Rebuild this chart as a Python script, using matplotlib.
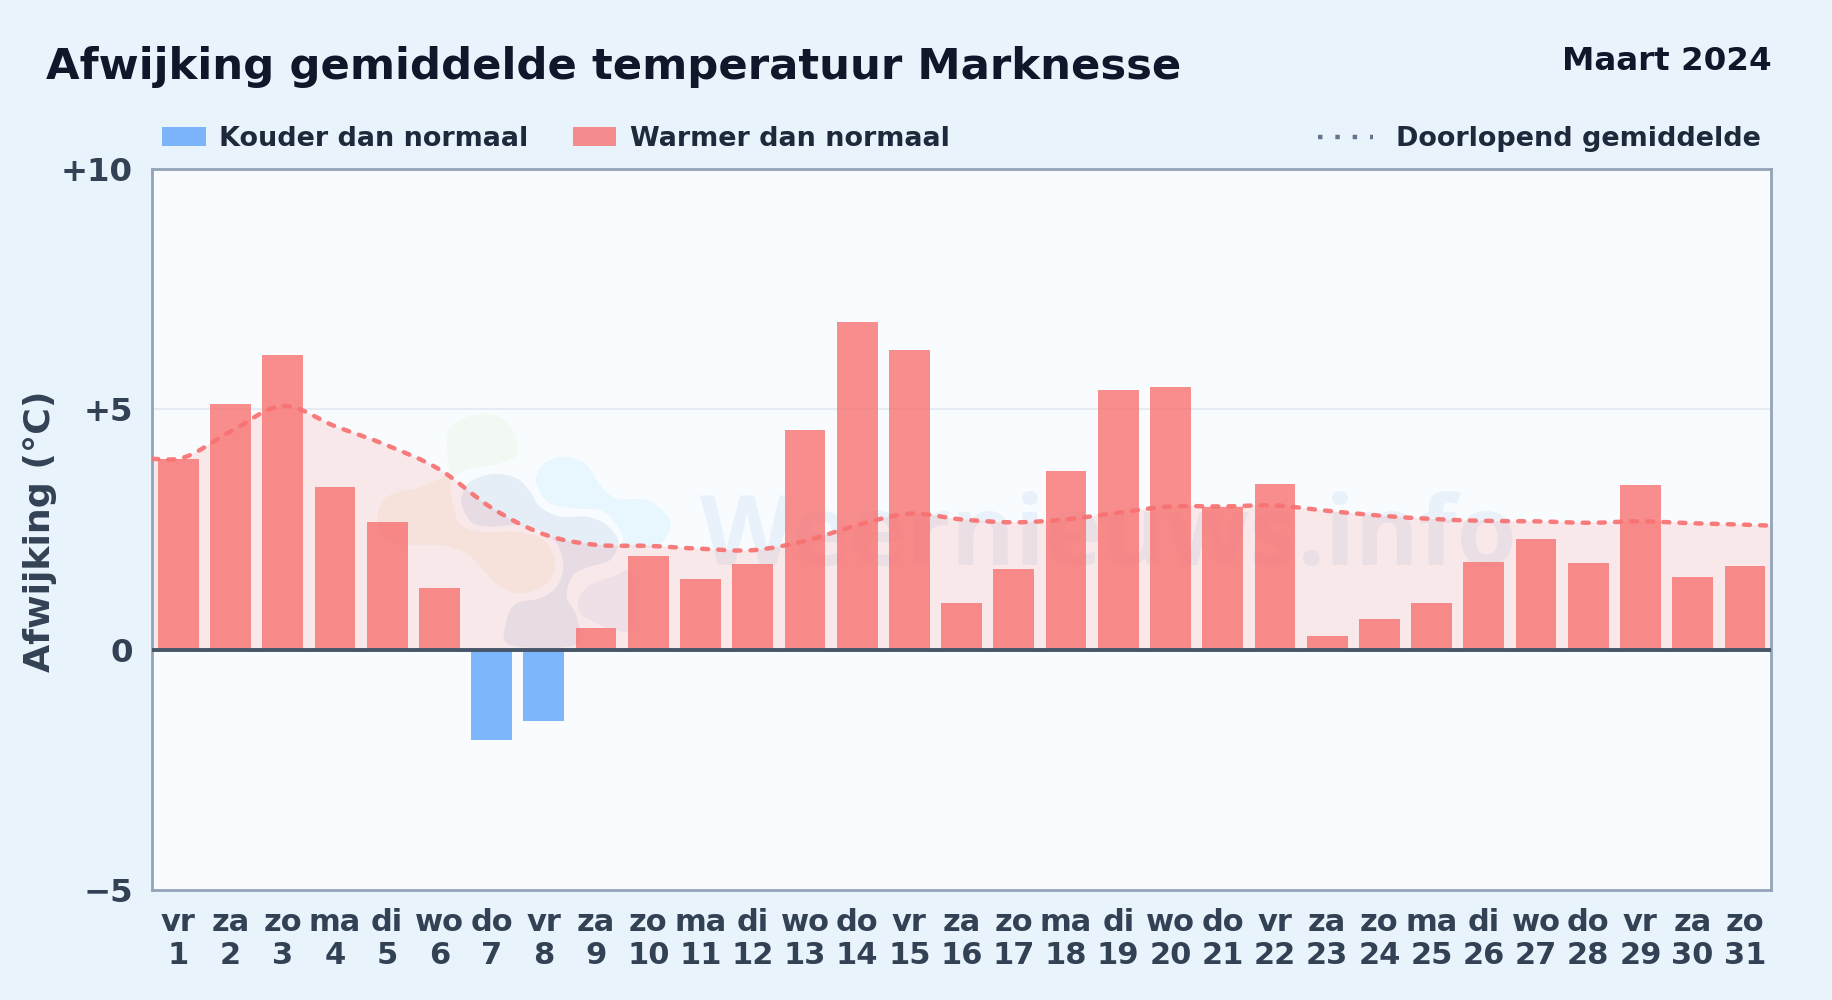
import matplotlib
matplotlib.use('Agg')
import matplotlib.pyplot as plt
import numpy as np
from matplotlib.lines import Line2D
from matplotlib.patches import PathPatch, Rectangle
from matplotlib.path import Path

W, H = 1832, 1000

weekdays = ['vr', 'za', 'zo', 'ma', 'di', 'wo', 'do', 'vr', 'za', 'zo', 'ma', 'di', 'wo', 'do', 'vr', 'za',
            'zo', 'ma', 'di', 'wo', 'do', 'vr', 'za', 'zo', 'ma', 'di', 'wo', 'do', 'vr', 'za', 'zo']
days = list(range(1, 32))
deviation = [3.97, 5.11, 6.13, 3.38, 2.65, 1.28, -1.87, -1.48, 0.46, 1.95, 1.48, 1.78, 4.56, 6.81, 6.23, 0.97,
             1.68, 3.72, 5.40, 5.47, 2.97, 3.45, 0.28, 0.63, 0.97, 1.82, 2.31, 1.80, 3.43, 1.51, 1.74]
running_mean = [3.97, 4.54, 5.07, 4.65, 4.25, 3.75, 2.95, 2.40, 2.18, 2.16, 2.10, 2.07, 2.26, 2.59, 2.83, 2.71,
                2.65, 2.71, 2.85, 2.98, 2.98, 3.00, 2.89, 2.79, 2.72, 2.68, 2.67, 2.64, 2.67, 2.63, 2.60]
mean_left_edge = 3.97
mean_right_edge = 2.58
y_ticks = [-5, 0, 5, 10]
y_tick_labels = ['\u22125', '0', '+5', '+10']

BG = '#e8f3fc'
RED = '#f87171'
BLUE = '#60a5fa'
BAR_ALPHA = 0.8
LEGEND_SIZE = 19.45

# logo outlines of the watermark, in pixels of a crop at (360, 400) scaled 3x
logo_green = [(265, 90), (310, 55), (380, 40), (440, 65), (470, 120), (465, 170), (400, 195), (330, 205),
              (275, 225), (262, 150)]
logo_sky = [(530, 225), (560, 185), (620, 170), (680, 195), (720, 255), (770, 295), (860, 300), (920, 345),
            (930, 390), (885, 440), (795, 440), (785, 400), (730, 335), (640, 325), (570, 310), (535, 265)]
logo_slate = [(305, 290), (330, 245), (400, 222), (470, 235), (510, 275), (540, 320), (600, 350), (680, 350),
              (740, 375), (775, 425), (750, 480), (690, 500), (640, 525), (620, 590), (650, 650), (645, 735),
              (450, 735), (440, 660), (470, 610), (540, 595), (590, 560), (610, 500), (590, 430), (530, 390),
              (470, 375), (400, 380), (340, 370), (310, 330)]
logo_orange = [(55, 330), (90, 285), (170, 265), (230, 240), (268, 228), (275, 300), (300, 370), (360, 395),
               (470, 395), (550, 420), (585, 480), (565, 545), (490, 580), (420, 560), (370, 510), (320, 460),
               (240, 435), (170, 435), (100, 425), (60, 385)]
logo_violet = [(655, 600), (690, 555), (760, 530), (815, 520), (820, 680), (760, 690), (690, 660), (660, 640)]


def px(x, y):
    # pixel position in the picture -> figure fraction
    return x / W, 1 - y / H


def smooth_vertices(xs, ys):
    # cubic bezier segments through the points
    xs = np.asarray(xs, dtype=float)
    ys = np.asarray(ys, dtype=float)
    slopes = np.gradient(ys, xs)
    verts = [(xs[0], ys[0])]
    for i in range(len(xs) - 1):
        dx = (xs[i + 1] - xs[i]) / 3
        verts.append((xs[i] + dx, ys[i] + slopes[i] * dx))
        verts.append((xs[i + 1] - dx, ys[i + 1] - slopes[i + 1] * dx))
        verts.append((xs[i + 1], ys[i + 1]))
    return verts


def blob_path(outline):
    # closed catmull-rom curve through the outline, in figure fractions
    pts = np.array([px(360 + a / 3, 400 + b / 3) for a, b in outline])
    n = len(pts)
    verts = [pts[0]]
    codes = [Path.MOVETO]
    for i in range(n):
        p0, p1, p2, p3 = pts[i - 1], pts[i], pts[(i + 1) % n], pts[(i + 2) % n]
        verts += [p1 + (p2 - p0) / 6, p2 - (p3 - p1) / 6, p2]
        codes += [Path.CURVE4] * 3
    return Path(np.array(verts), codes)


def draw_watermark(fig, ax):
    blobs = [(logo_green, '#84cc16', 0.05), (logo_sky, '#38bdf8', 0.08), (logo_slate, '#2563a8', 0.085),
             (logo_orange, '#f59e0b', 0.07), (logo_violet, '#6080c0', 0.07)]
    for outline, color, alpha in blobs:
        ax.add_patch(PathPatch(blob_path(outline), transform=fig.transFigure, facecolor=color, edgecolor='none',
                               alpha=alpha, zorder=1))
    ax.text(*px(700, 565), 'Weernieuws.info', transform=fig.transFigure, family='Open Sans', fontsize=70,
            fontweight='bold', color='#3b82c4', alpha=0.08, ha='left', va='baseline', zorder=1.5)


def draw_legend(fig):
    swatches = [(162, 206, BLUE, 'Kouder dan normaal', 219), (573, 616, RED, 'Warmer dan normaal', 630)]
    for left, right, color, label, text_x in swatches:
        x0, y0 = px(left, 146)
        x1, y1 = px(right, 127)
        fig.add_artist(Rectangle((x0, y0), x1 - x0, y1 - y0, transform=fig.transFigure, facecolor=color,
                                 alpha=BAR_ALPHA, edgecolor='none'))
        fig.text(*px(text_x, 146), label, fontsize=LEGEND_SIZE, fontweight='bold', color='#1e293b', va='baseline')
    x0, y0 = px(1318, 137)
    x1, _ = px(1373, 137)
    fig.add_artist(Line2D([x0, x1], [y0, y0], transform=fig.transFigure, color='#64748b', lw=3.2,
                          linestyle=(0, (1, 2.9))))
    fig.text(*px(1760.5, 146), 'Doorlopend gemiddelde', fontsize=LEGEND_SIZE, fontweight='bold', color='#1e293b',
             ha='right', va='baseline')


def main():
    plt.rcParams['font.family'] = 'DejaVu Sans'
    fig = plt.figure(figsize=(W / 100, H / 100), dpi=100, facecolor=BG)
    left, top = px(152.2, 169)
    right, bottom = px(1771, 890)
    ax = fig.add_axes([left, bottom, right - left, top - bottom], facecolor='#f8fcff')

    x = np.arange(len(days))
    ax.set_xlim(-0.5, len(days) - 0.5)
    ax.set_ylim(-5, 10)

    draw_watermark(fig, ax)

    ax.axhline(5, color='#e2e8f0', lw=1.2, zorder=1)

    # area and dashed line of the running mean
    line_x = [-0.5] + list(x) + [len(days) - 0.5]
    line_y = [mean_left_edge] + running_mean + [mean_right_edge]
    verts = smooth_vertices(line_x, line_y)
    curve_codes = [Path.MOVETO] + [Path.CURVE4] * (len(verts) - 1)
    area_verts = verts + [(line_x[-1], 0), (line_x[0], 0), (line_x[0], 0)]
    area_codes = curve_codes + [Path.LINETO, Path.LINETO, Path.CLOSEPOLY]
    ax.add_patch(PathPatch(Path(area_verts, area_codes), facecolor=RED, alpha=0.14, edgecolor='none', zorder=2))

    colors = [RED if v >= 0 else BLUE for v in deviation]
    ax.bar(x, deviation, width=0.78, color=colors, alpha=BAR_ALPHA, zorder=3)

    ax.add_patch(PathPatch(Path(verts, curve_codes), facecolor='none', edgecolor=RED, alpha=0.92, lw=3.2,
                           linestyle=(0, (1.36, 2.27)), capstyle='round', zorder=4))
    ax.axhline(0, color='#475569', lw=2.8, zorder=5)

    for spine in ax.spines.values():
        spine.set_color('#94a3b8')
        spine.set_linewidth(2)

    ax.set_yticks(y_ticks)
    ax.set_yticklabels(y_tick_labels, fontsize=23.3, fontweight='bold', color='#334155')
    ax.set_xticks(x)
    ax.set_xticklabels([f'{d}\n{n}' for d, n in zip(weekdays, days)], fontsize=22, fontweight='bold',
                       color='#334155', linespacing=1.15)
    ax.tick_params(axis='both', length=0)
    ax.tick_params(axis='y', pad=14)
    ax.tick_params(axis='x', pad=13)

    fig.text(*px(40, 531), 'Afwijking (\u00b0C)', rotation=90, fontsize=26.2, fontweight='bold', color='#334155',
             ha='center', va='center')
    fig.text(*px(46, 79), 'Afwijking gemiddelde temperatuur Marknesse', fontsize=31.2, fontweight='bold',
             color='#0f172a', va='baseline')
    fig.text(*px(1772, 70), 'Maart 2024', fontsize=23.4, fontweight='bold', color='#0f172a', ha='right',
             va='baseline')
    draw_legend(fig)

    fig.savefig('out.png', dpi=100, facecolor=BG)
    plt.close(fig)


if __name__ == "__main__":
    main()
